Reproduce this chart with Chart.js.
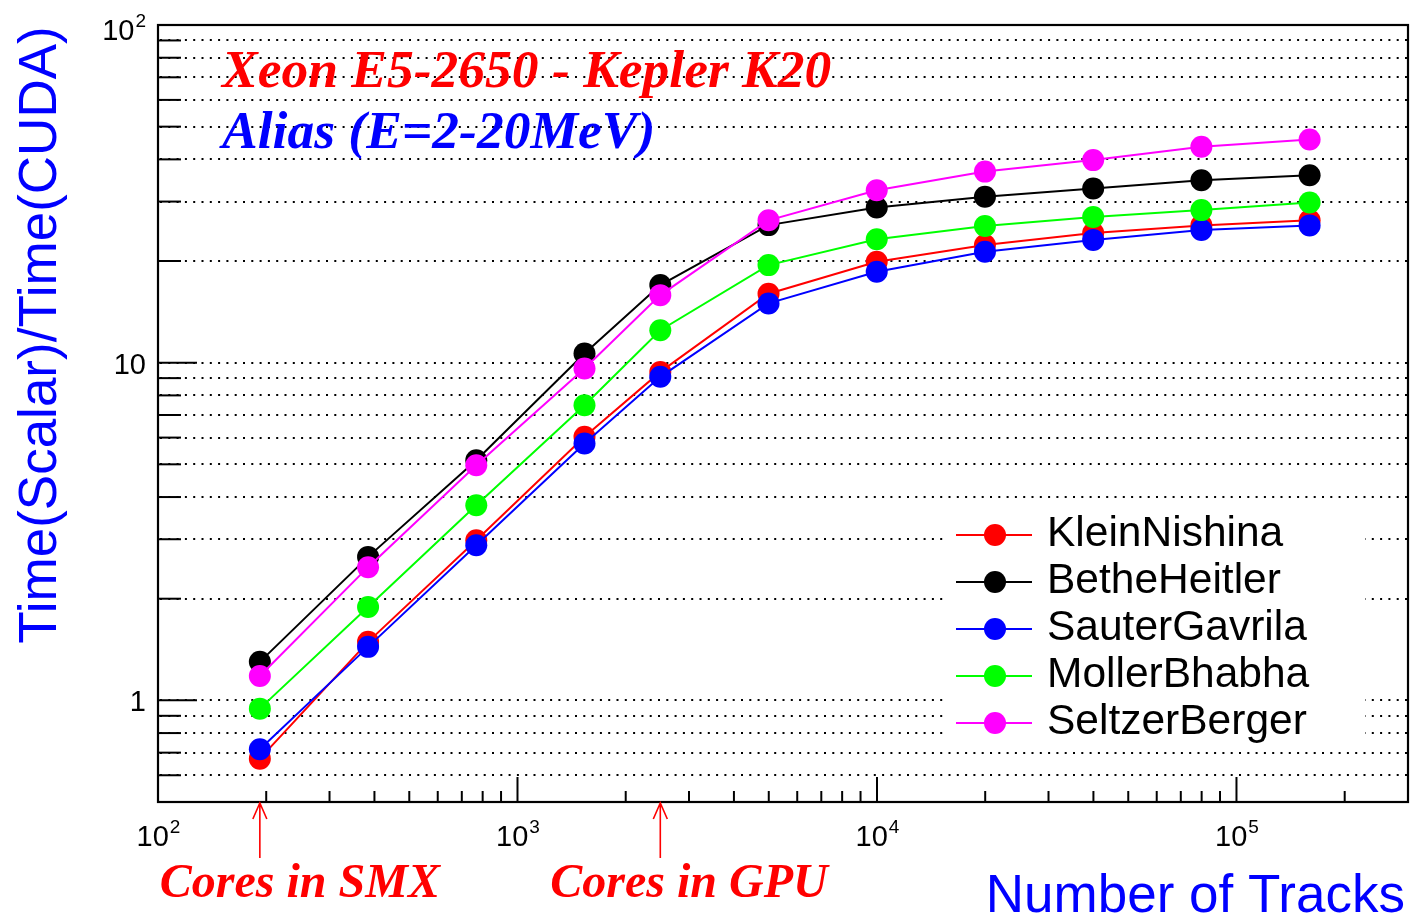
<!DOCTYPE html>
<html>
<head>
<meta charset="utf-8">
<title>Time(Scalar)/Time(CUDA) vs Number of Tracks</title>
<script src="https://cdn.jsdelivr.net/npm/chart.js@4"></script>
<style>
  html, body { margin: 0; padding: 0; background: #fff; }
  canvas { display: block; }
</style>
</head>
<body>
<canvas id="chartTracks" width="1412" height="919"></canvas>
<script>
// Datos
const tracks = [192, 384, 768, 1536, 2496, 4992, 9984, 19968, 39936, 79872, 159744];

const kleinNishina  = [0.672, 1.49, 2.98, 6.03, 9.39, 16.0, 19.9, 22.3, 24.2, 25.5, 26.4];
const betheHeitler  = [1.30, 2.66, 5.14, 10.65, 16.97, 25.55, 28.8, 31.0, 32.8, 34.7, 35.9];
const sauterGavrila = [0.716, 1.44, 2.88, 5.76, 9.08, 14.98, 18.58, 21.3, 23.1, 24.7, 25.5];
const mollerBhabha  = [0.945, 1.89, 3.78, 7.48, 12.48, 19.45, 23.2, 25.4, 27.0, 28.3, 29.8];
const seltzerBerger = [1.18, 2.48, 4.97, 9.61, 15.85, 26.4, 32.4, 36.8, 39.8, 43.6, 45.8];

const seriesNames  = ['KleinNishina', 'BetheHeitler', 'SauterGavrila', 'MollerBhabha', 'SeltzerBerger'];
const seriesValues = [kleinNishina, betheHeitler, sauterGavrila, mollerBhabha, seltzerBerger];
const seriesColors = ['#ff0000', '#000000', '#0000ff', '#00ff00', '#ff00ff'];

// Ejes
const xRange = [100, 300000];
const yRange = [0.5, 100];
const xDecades = [100, 1000, 10000, 100000];
const xDecadeLabels = [['10', '2'], ['10', '3'], ['10', '4'], ['10', '5']];
const yDecades = [1, 10, 100];
const yDecadeLabels = [['1', ''], ['10', ''], ['10', '2']];

// Anotaciones
const coreMarks  = [192, 2496];
const coreLabels = ['Cores in SMX', 'Cores in GPU'];
const titleLines = ['Xeon E5-2650 - Kepler K20', 'Alias (E=2-20MeV)'];
const titleColors = ['#ff0000', '#0000ff'];
const yTitle = 'Time(Scalar)/Time(CUDA)';
const xTitle = 'Number of Tracks';

const SANS = '"Liberation Sans", Arial, Helvetica, sans-serif';
const SERIF = '"Liberation Serif", "Times New Roman", serif';

// ticks menores 2..9 por década, dentro del rango
function minorTicks(range) {
  const out = [];
  for (let e = Math.floor(Math.log10(range[0])); e <= Math.ceil(Math.log10(range[1])); e++) {
    const d = Math.pow(10, e);
    for (let k = 1; k <= 9; k++) {
      const v = +(k * d).toPrecision(6);
      if (v > range[0] * 1.0001 && v < range[1] * 0.9999) out.push({ v: v, major: k === 1 });
    }
  }
  return out;
}

// Rejilla punteada horizontal
const dottedGrid = {
  id: 'dottedGrid',
  beforeDatasetsDraw(chart) {
    const { ctx, chartArea: a, scales: { y } } = chart;
    ctx.save();
    ctx.strokeStyle = '#000';
    ctx.lineWidth = 2;
    ctx.setLineDash([2, 6.3]);
    minorTicks(yRange).forEach(t => {
      const py = Math.round(y.getPixelForValue(t.v));
      ctx.beginPath();
      ctx.moveTo(a.left + 2, py);
      ctx.lineTo(a.right, py);
      ctx.stroke();
    });
    ctx.restore();
  }
};

// Marco, ticks, etiquetas, leyenda y textos estilo ROOT
const rootFrame = {
  id: 'rootFrame',
  afterDraw(chart) {
    const { ctx, chartArea: a, scales: { x, y } } = chart;
    ctx.save();

    // ticks hacia dentro
    ctx.strokeStyle = '#000';
    ctx.lineWidth = 2;
    minorTicks(yRange).forEach(t => {
      const py = y.getPixelForValue(t.v);
      ctx.beginPath();
      ctx.moveTo(a.left, py);
      ctx.lineTo(a.left + (t.major ? 39 : 23), py);
      ctx.stroke();
    });
    minorTicks(xRange).forEach(t => {
      const px = x.getPixelForValue(t.v);
      ctx.beginPath();
      ctx.moveTo(px, a.bottom);
      ctx.lineTo(px, a.bottom - (t.major ? 25 : 11));
      ctx.stroke();
    });

    // marco
    ctx.lineWidth = 2.2;
    ctx.strokeRect(a.left, a.top, a.right - a.left, a.bottom - a.top);

    // etiquetas de ticks
    ctx.fillStyle = '#000';
    ctx.textBaseline = 'alphabetic';
    ctx.textAlign = 'left';
    xDecades.forEach((v, i) => {
      const [base, sup] = xDecadeLabels[i];
      ctx.font = '29px ' + SANS;
      const wb = ctx.measureText(base).width;
      ctx.font = '19px ' + SANS;
      const ws = ctx.measureText(sup).width;
      const px = x.getPixelForValue(v) - (wb + ws) / 2;
      ctx.font = '29px ' + SANS;
      ctx.fillText(base, px, a.bottom + 44);
      ctx.font = '19px ' + SANS;
      ctx.fillText(sup, px + wb + 1, a.bottom + 31);
    });
    yDecades.forEach((v, i) => {
      const [base, sup] = yDecadeLabels[i];
      ctx.font = '29px ' + SANS;
      const wb = ctx.measureText(base).width;
      ctx.font = '19px ' + SANS;
      const ws = sup ? ctx.measureText(sup).width + 1 : 0;
      const right = a.left - 12;
      const py = Math.max(y.getPixelForValue(v), a.top + 4) + 11;
      ctx.font = '29px ' + SANS;
      ctx.fillText(base, right - ws - wb, py);
      if (sup) {
        ctx.font = '19px ' + SANS;
        ctx.fillText(sup, right - ws + 1, py - 13);
      }
    });

    // títulos de ejes
    ctx.fillStyle = '#0000ff';
    ctx.font = '53px ' + SANS;
    ctx.textAlign = 'right';
    ctx.fillText(xTitle, a.right - 3, a.bottom + 110);
    ctx.save();
    ctx.translate(56, (a.top + 645) / 2);
    ctx.rotate(-Math.PI / 2);
    ctx.textAlign = 'center';
    ctx.fillText(yTitle, 0, 0);
    ctx.restore();

    // textos en el gráfico
    ctx.textAlign = 'left';
    ctx.font = 'italic bold 53.5px ' + SERIF;
    titleLines.forEach((t, i) => {
      ctx.fillStyle = titleColors[i];
      ctx.fillText(t, a.left + 64, a.top + 62 + i * 61);
    });

    // flechas "Cores in ..."
    ctx.strokeStyle = '#ff0000';
    ctx.fillStyle = '#ff0000';
    ctx.lineWidth = 1.6;
    ctx.font = 'italic bold 48px ' + SERIF;
    coreMarks.forEach((v, i) => {
      const px = x.getPixelForValue(v);
      ctx.beginPath();
      ctx.moveTo(px, a.bottom + 1);
      ctx.lineTo(px, a.bottom + 56);
      ctx.moveTo(px - 7, a.bottom + 17);
      ctx.lineTo(px, a.bottom + 1);
      ctx.lineTo(px + 7, a.bottom + 17);
      ctx.stroke();
      ctx.fillText(coreLabels[i], px - (i === 0 ? 100 : 110), a.bottom + 95);
    });

    // leyenda
    const lx = 943, ly = 505;
    ctx.fillStyle = '#fff';
    ctx.fillRect(lx, ly, 422, 240);
    seriesNames.forEach((name, i) => {
      const cy = ly + 30 + i * 47;
      ctx.strokeStyle = seriesColors[i];
      ctx.lineWidth = 2;
      ctx.beginPath();
      ctx.moveTo(lx + 13, cy);
      ctx.lineTo(lx + 89, cy);
      ctx.stroke();
      ctx.fillStyle = seriesColors[i];
      ctx.beginPath();
      ctx.arc(lx + 52, cy, 11, 0, Math.PI * 2);
      ctx.fill();
      ctx.fillStyle = '#000';
      ctx.font = '42.5px ' + SANS;
      ctx.fillText(name, lx + 104, cy + 11);
    });

    ctx.restore();
  }
};

const datasets = seriesNames.map((name, i) => ({
  label: name,
  data: tracks.map((t, j) => ({ x: t, y: seriesValues[i][j] })),
  borderColor: seriesColors[i],
  backgroundColor: seriesColors[i],
  borderWidth: 2,
  pointRadius: 11,
  pointHoverRadius: 11,
  pointBorderWidth: 0,
  pointBackgroundColor: seriesColors[i],
  tension: 0,
  fill: false,
  clip: false,
  order: seriesNames.length - i
}));

const ctx = document.getElementById('chartTracks').getContext('2d');
new Chart(ctx, {
  type: 'line',
  data: { datasets: datasets },
  options: {
    responsive: false,
    animation: false,
    layout: { autoPadding: false, padding: { left: 158, top: 25, right: 4, bottom: 117 } },
    scales: {
      x: { type: 'logarithmic', min: xRange[0], max: xRange[1], display: false },
      y: { type: 'logarithmic', min: yRange[0], max: yRange[1], display: false }
    },
    plugins: {
      legend: { display: false },
      tooltip: { enabled: false }
    }
  },
  plugins: [dottedGrid, rootFrame]
});
</script>
</body>
</html>
